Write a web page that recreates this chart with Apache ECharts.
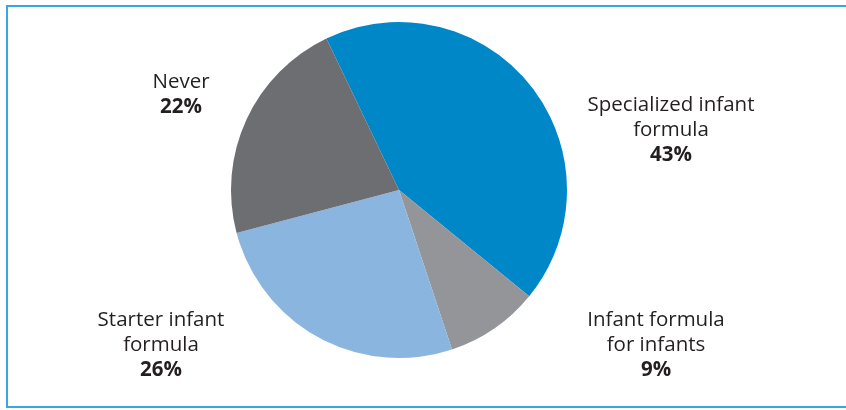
<!DOCTYPE html>
<html>
<head>
<meta charset="utf-8">
<script src="https://cdn.jsdelivr.net/npm/echarts@6/dist/echarts.min.js"></script>
<style>
html,body{margin:0;padding:0;background:#fff;}
#c{width:846px;height:410px;}
</style>
</head>
<body>
<div id="c"></div>
<script>
var categories = ["Specialized infant\nformula", "Infant formula\nfor infants", "Starter infant\nformula", "Never"];
var values = [43, 9, 26, 22];
var colors = ["#0087c7", "#939598", "#8ab5de", "#6d6e71"];
var labelPos = [[671, 130], [656, 345], [161, 345], [181, 95]];

var chart = echarts.init(document.getElementById('c'), null, {renderer: 'canvas'});
var data = categories.map(function (n, i) {
  return {name: n, value: values[i], itemStyle: {color: colors[i]}};
});
chart.setOption({
  animation: false,
  graphic: [{
    type: 'rect',
    shape: {x: 7, y: 6, width: 845, height: 401},
    style: {fill: 'none', stroke: '#35a9df', lineWidth: 2},
    silent: true
  }],
  series: [{
    type: 'pie',
    center: [399, 190],
    radius: [0, 168],
    startAngle: 115.6,
    clockwise: true,
    data: data,
    itemStyle: {borderWidth: 0},
    labelLine: {show: false},
    label: {
      show: true,
      position: 'outside',
      formatter: function (p) { return p.name + '\n{b|' + p.value + '%}'; },
      color: '#231f20',
      fontFamily: 'Open Sans',
      fontSize: 20.5,
      lineHeight: 25,
      align: 'center',
      rich: {b: {fontWeight: 'bold', fontSize: 20.5, lineHeight: 25, color: '#231f20', fontFamily: 'Open Sans'}}
    },
    labelLayout: function (p) {
      var pos = labelPos[p.dataIndex];
      return {x: pos[0], y: pos[1], align: 'center', verticalAlign: 'middle'};
    }
  }]
});
</script>
</body>
</html>
